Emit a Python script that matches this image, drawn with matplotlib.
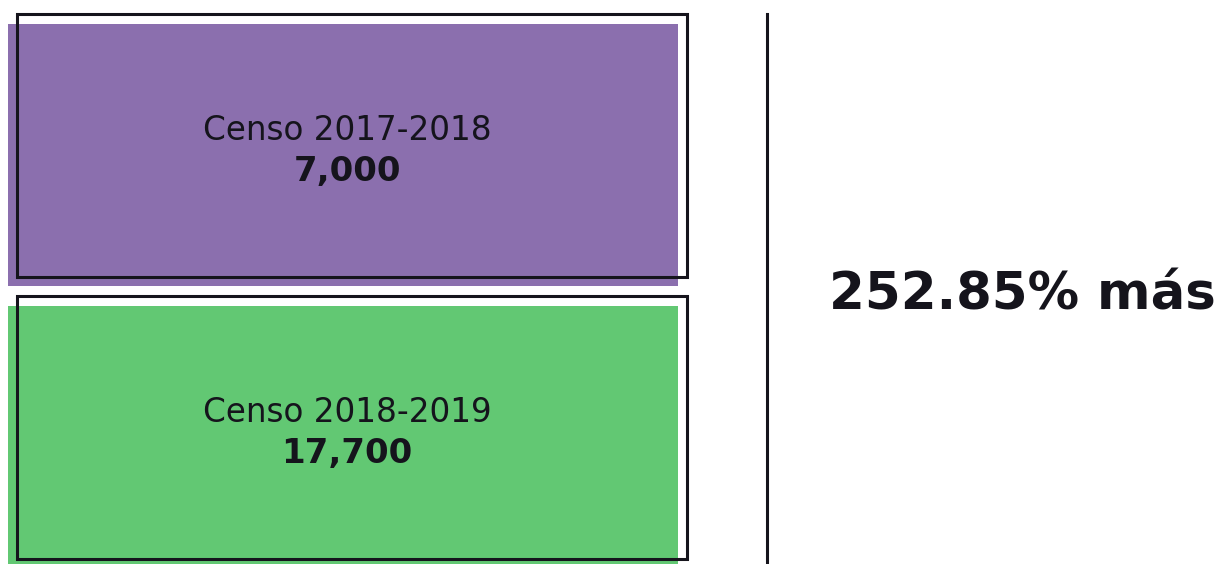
import matplotlib
matplotlib.use("Agg")
import matplotlib.pyplot as plt

# data
labels = ["Censo 2017-2018", "Censo 2018-2019"]
values = [7000, 17700]
colors = ["#8b6fae", "#62c873"]
summary = "252.85% más"

W, H = 1219, 564
fig = plt.figure(figsize=(W / 100, H / 100), dpi=100)
ax = fig.add_axes([0, 0, 1, 1])
ax.set_xlim(0, W)
ax.set_ylim(H, 0)
ax.axis("off")

ink = "#15141c"
step = 282
box_h = 262
box_w = 670
centers = [155 + i * step for i in range(len(labels))]

# filled boxes
ax.barh(centers, box_w, left=8, height=box_h, color=colors, zorder=1)
# offset outline boxes
ax.barh([c - 9.5 for c in centers], box_w, left=17, height=box_h + 1,
        fill=False, edgecolor=ink, linewidth=2.2, zorder=2)

font = "DejaVu Sans"
for c, lab, val in zip(centers, labels, values):
    ax.text(347, c - 25, lab, ha="center", va="center", fontsize=23.5,
            family=font, color=ink, zorder=3)
    ax.text(347, c + 17, f"{val:,}", ha="center", va="center", fontsize=24.5,
            family=font, fontweight="bold", color=ink, zorder=3)

# divider
ax.plot([767, 767], [14, H], color=ink, linewidth=2.2)

ax.text(1022, 296, summary, ha="center", va="center", fontsize=37,
        family=font, fontweight="bold", color=ink)

fig.savefig("out.png", dpi=100)
